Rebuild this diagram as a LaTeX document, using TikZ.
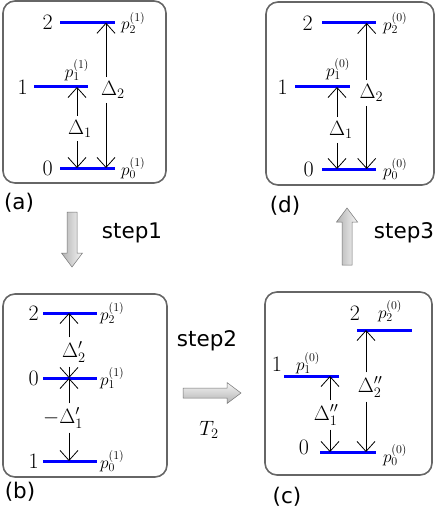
\documentclass[tikz,border=0pt]{standalone}
\usepackage{fontspec}
\newfontfamily\sansf{DejaVu Sans}
\usetikzlibrary{arrows.meta}
\tikzset{
 panel/.style={draw=black!60, line width=1.6pt, rounded corners=12pt},
 lvl/.style={draw=blue, line width=3pt},
 tr/.style={line width=0.8pt, -{Straight Barb[length=10pt,width=18pt]}},
 num/.style={anchor=east, inner sep=0pt, font=\fontsize{22}{26}\selectfont},
 plab/.style={inner sep=0pt, font=\fontsize{18}{20}\selectfont},
 dlab/.style={inner sep=4pt, font=\fontsize{22}{26}\selectfont},
 sans/.style={inner sep=0pt, font=\sansf\fontsize{21.5}{26}\selectfont},
 blockv/.style={draw=black!55, line width=0.5pt, left color=black!30, right color=black!4},
 blockh/.style={draw=black!55, line width=0.5pt, bottom color=black!30, top color=black!4},
}
\begin{document}
\begin{tikzpicture}[x=1pt,y=-1pt]
\useasboundingbox (0,0) rectangle (436,508);
% ---------- panel (a)
\draw[panel] (3,1) rectangle (166,183);
\draw[lvl] (60,22.7) -- (115,22.7);
\draw[lvl] (34,87) -- (88,87);
\draw[lvl] (60,168) -- (115,168);
\node[num] (a-n2) at (53,22.7) {2};
\node[num] (a-n1) at (28,87) {1};
\node[num] (a-n0) at (53,168) {0};
\node[plab,anchor=west] (a-p2) at (121,22.7) {$p_2^{(1)}$};
\node[plab,anchor=south] (a-p1) at (77,81) {$p_1^{(1)}$};
\node[plab,anchor=west] (a-p0) at (121,168) {$p_0^{(1)}$};
\coordinate (a-t1) at (77,87); \coordinate (a-b1) at (77,168);
\coordinate (a-t2) at (106,22.7); \coordinate (a-b2) at (106,168);
\node[dlab] (a-d1) at (80,128.5) {$\Delta_1$};
\node[dlab] (a-d2) at (113,90) {$\Delta_2$};
\draw[tr] (a-d1.north -| a-t1) -- (a-t1);
\draw[tr] (a-d1.south -| a-b1) -- (a-b1);
\draw[tr] (a-d2.north -| a-t2) -- (a-t2);
\draw[tr] (a-d2.south -| a-b2) -- (a-b2);
\node[sans] (la) at (19,203) {(a)};
% ---------- panel (b)
\draw[panel] (3,294) rectangle (167,477);
\draw[lvl] (43,313) -- (97,313);
\draw[lvl] (43,378) -- (97,378);
\draw[lvl] (43,461) -- (97,461);
\node[num] (b-n2) at (39,313) {2};
\node[num] (b-n0) at (39,378) {0};
\node[num] (b-n1) at (39,461) {1};
\node[plab,anchor=west] (b-p2) at (100,313) {$p_2^{(1)}$};
\node[plab,anchor=west] (b-p1) at (100,378) {$p_1^{(1)}$};
\node[plab,anchor=west] (b-p0) at (100,461) {$p_0^{(1)}$};
\coordinate (b-2) at (69,313); \coordinate (b-0) at (69,378); \coordinate (b-1) at (69,461);
\node[dlab] (b-d2) at (74,352) {$\Delta'_2$};
\node[dlab] (b-d1) at (63,418) {$-\Delta'_1$};
\draw[tr] (b-d2.north -| b-2) -- (b-2);
\draw[tr] (b-d2.south -| b-0) -- (b-0);
\draw[tr] (b-d1.north -| b-0) -- (b-0);
\draw[tr] (b-d1.south -| b-1) -- (b-1);
\node[sans] (lb) at (20,492) {(b)};
% ---------- panel (c)
\draw[panel] (265,292) rectangle (432,475);
\draw[lvl] (357,330) -- (412,330);
\draw[lvl] (284,376) -- (339,376);
\draw[lvl] (320,452) -- (376,452);
\node[num,anchor=center] (c-n2) at (355,313.5) {2};
\node[num,anchor=center] (c-n1) at (277,364) {1};
\node[num,anchor=center] (c-n0) at (304,447) {0};
\node[plab] (c-p2) at (390,311) {$p_2^{(0)}$};
\node[plab] (c-p1) at (308,363) {$p_1^{(0)}$};
\node[plab] (c-p0) at (395,455) {$p_0^{(0)}$};
\coordinate (c-1) at (330,376); \coordinate (c-0a) at (330,452);
\coordinate (c-2) at (366,330); \coordinate (c-0b) at (366,452);
\node[dlab] (c-d1) at (326,415) {$\Delta''_1$};
\node[dlab] (c-d2) at (370,387) {$\Delta''_2$};
\draw[tr] (c-d1.north -| c-1) -- (c-1);
\draw[tr] (c-d1.south -| c-0a) -- (c-0a);
\draw[tr] (c-d2.north -| c-2) -- (c-2);
\draw[tr] (c-d2.south -| c-0b) -- (c-0b);
\node[sans] (lc) at (287,497) {(c)};
% ---------- panel (d)
\draw[panel] (266,2) rectangle (434,185);
\draw[lvl] (322,23) -- (376,23);
\draw[lvl] (295,87) -- (350,87);
\draw[lvl] (322,169) -- (376,169);
\node[num] (d-n2) at (313,23) {2};
\node[num] (d-n1) at (288,87) {1};
\node[num] (d-n0) at (314,169) {0};
\node[plab,anchor=west] (d-p2) at (383,23) {$p_2^{(0)}$};
\node[plab,anchor=south] (d-p1) at (338,80) {$p_1^{(0)}$};
\node[plab,anchor=west] (d-p0) at (383,169) {$p_0^{(0)}$};
\coordinate (d-t1) at (337,87); \coordinate (d-b1) at (337,169);
\coordinate (d-t2) at (366.7,23); \coordinate (d-b2) at (366.7,169);
\node[dlab] (d-d1) at (341,130) {$\Delta_1$};
\node[dlab] (d-d2) at (371.5,93) {$\Delta_2$};
\draw[tr] (d-d1.north -| d-t1) -- (d-t1);
\draw[tr] (d-d1.south -| d-b1) -- (d-b1);
\draw[tr] (d-d2.north -| d-t2) -- (d-t2);
\draw[tr] (d-d2.south -| d-b2) -- (d-b2);
\node[sans] (ld) at (285,206) {(d)};
% ---------- step arrows
\draw[blockv] (67,212) -- (77,212) -- (77,253) -- (82.5,253) -- (72,267) -- (61.5,253) -- (67,253) -- cycle;
\node[sans] (s1) at (132,233) {step1};
\draw[blockh] (183,388) -- (227,388) -- (227,382.5) -- (241,393) -- (227,403.5) -- (227,398) -- (183,398) -- cycle;
\node[sans] (s2) at (207,341) {step2};
\node[dlab] (t2) at (209,430) {$T_2$};
\draw[blockv] (342,265) -- (352,265) -- (352,222) -- (357.5,222) -- (347,208) -- (336.5,222) -- (342,222) -- cycle;
\node[sans] (s3) at (404,233) {step3};
\end{tikzpicture}
\end{document}
